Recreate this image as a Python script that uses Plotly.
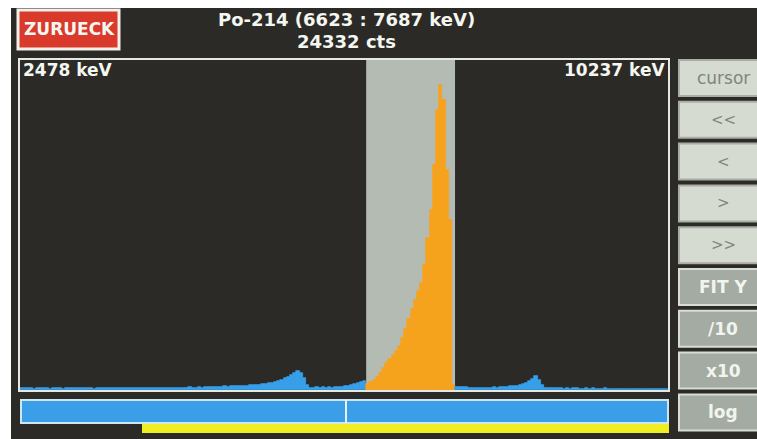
import numpy as np
import plotly.graph_objects as go

# ---------------- data ----------------
ISOTOPE = "Po-214"
RANGE_LO_KEV = 2478
RANGE_HI_KEV = 10237
WINDOW_LO_KEV = 6623
WINDOW_HI_KEV = 7687
BIN_KEV = 38

# counts per 38 keV bin, below the window (2481 .. 6623 keV)
left_counts = [
    18, 14, 20, 16, 12, 19, 22, 15, 17, 13,
    20, 16, 18, 11, 21, 17, 14, 19, 16, 22,
    15, 18, 20, 13, 17, 21, 16, 19, 14, 18,
    20, 17, 15, 19, 16, 14, 21, 17, 15, 19,
    16, 20, 18, 15, 19, 17, 21, 18, 16, 20,
    22, 19, 18, 23, 21, 19, 24, 22, 26, 24,
    27, 25, 29, 27, 31, 29, 33, 31, 35, 33,
    38, 36, 40, 44, 41, 47, 50, 53, 58, 62,
    70, 79, 90, 102, 118, 135, 152, 167, 150, 108,
    46, 22, 19, 24, 20, 23, 18, 25, 21, 26,
    28, 30, 35, 38, 45, 52, 60, 70, 78,
]
# counts per bin inside the Po-214 window (6623 .. 7687 keV)
window_counts = [
    55, 68, 88, 114, 150, 194, 238, 273, 308, 343,
    387, 458, 537, 625, 713, 792, 871, 942, 1100, 1338,
    1584, 1980, 2464, 2684, 2552, 1936, 1496, 42,
]
# counts per bin above the window (7687 .. 10233 keV)
right_counts = [
    30, 26, 28, 24, 22,
    20, 18, 22, 17, 19, 21, 16, 23, 20, 25,
    28, 30, 34, 32, 38, 42, 50,
    60, 75, 95, 125, 88, 42, 20,
    18, 15, 17, 14, 16, 13, 15, 12, 14, 16,
    13, 11, 14, 12, 15, 13, 11, 12, 14, 10,
    13, 11, 12, 9, 12, 10, 13, 11, 9, 12,
    10, 11, 9, 12, 10, 8, 11, 9,
]

BUTTONS_LIGHT = ["cursor", "&lt;&lt;", "&lt;", "&gt;", "&gt;&gt;"]
BUTTONS_DARK = ["FIT Y", "/10", "x10", "log"]

# ---------------- helpers ----------------
W, H = 757, 439


def px(x):
    return x / W


def py(y):
    return 1 - y / H


n_l, n_w, n_r = len(left_counts), len(window_counts), len(right_counts)
left_x = WINDOW_LO_KEV - BIN_KEV * (n_l - np.arange(n_l) - 0.5)
win_x = WINDOW_LO_KEV + BIN_KEV * (np.arange(n_w) + 0.5)
right_x = WINDOW_HI_KEV + BIN_KEV * (np.arange(n_r) + 0.5)

BLUE = "#38a0ea"
ORANGE = "#f7a21c"
BG = "#2b2a27"

fig = go.Figure()
for xs, ys, col in [(left_x, left_counts, BLUE), (win_x, window_counts, ORANGE),
                    (right_x, right_counts, BLUE)]:
    fig.add_trace(go.Bar(x=xs, y=ys, width=BIN_KEV,
                         marker=dict(color=col, line=dict(width=0.7, color=col)),
                         hoverinfo="x+y"))

y_top = max(window_counts) * 1.082

shapes = []
# dark screen area (photo has a white margin top/left)
shapes.append(dict(type="rect", xref="paper", yref="paper", x0=px(11), x1=1.02, y0=-0.02, y1=py(8),
                   fillcolor=BG, line=dict(width=0), layer="below"))
# window band
shapes.append(dict(type="rect", xref="x", yref="y domain", x0=WINDOW_LO_KEV, x1=WINDOW_HI_KEV,
                   y0=0, y1=1, fillcolor="#b4bbb3", line=dict(width=0), layer="below"))
# plot frame
shapes.append(dict(type="rect", xref="paper", yref="paper", x0=px(19), x1=px(669), y0=py(391), y1=py(59),
                   line=dict(color="#e4eae2", width=2), fillcolor="rgba(0,0,0,0)"))
# ZURUECK button
shapes.append(dict(type="rect", xref="paper", yref="paper", x0=px(18), x1=px(119), y0=py(49), y1=py(10),
                   fillcolor="#d93a2c", line=dict(color="#f4efe8", width=3)))
# overview bar
shapes.append(dict(type="rect", xref="paper", yref="paper", x0=px(21), x1=px(668), y0=py(423), y1=py(400),
                   fillcolor="#3a9ee8", line=dict(color="#cfe6ee", width=2)))
shapes.append(dict(type="line", xref="paper", yref="paper", x0=px(346), x1=px(346), y0=py(423), y1=py(400),
                   line=dict(color="#e8f2f4", width=2)))
shapes.append(dict(type="rect", xref="paper", yref="paper", x0=px(142), x1=px(669), y0=py(433), y1=py(424),
                   fillcolor="#f0ee22", line=dict(width=0)))

annotations = []
# side buttons
top0, pitch, bh = 60, 41.8, 36
labels = [(t, True) for t in BUTTONS_LIGHT] + [(t, False) for t in BUTTONS_DARK]
for i, (lab, light) in enumerate(labels):
    y0 = top0 + i * pitch
    y1 = y0 + bh
    shapes.append(dict(type="rect", xref="paper", yref="paper", x0=px(679), x1=px(775),
                       y0=py(y1), y1=py(y0),
                       fillcolor="#d6dbd1" if light else "#a4aba3",
                       line=dict(color="#a8ada5" if light else "#d9ddd5", width=2)))
    if light:
        font = dict(family="DejaVu Sans", size=17 if i == 0 else 15, color="#80857d")
    else:
        font = dict(family="DejaVu Sans", size=17, color="#f2f4ee", weight="bold")
    annotations.append(dict(xref="paper", yref="paper", x=px(723), y=py((y0 + y1) / 2),
                            text=lab, showarrow=False, font=font, xanchor="center", yanchor="middle"))

white_bold = dict(family="DejaVu Sans", color="#f4f6f0", weight="bold")
annotations += [
    dict(xref="paper", yref="paper", x=px(69), y=py(29), text="ZURUECK", showarrow=False,
         font=dict(white_bold, size=17), xanchor="center", yanchor="middle"),
    dict(xref="paper", yref="paper", x=px(346), y=py(20),
         text=f"{ISOTOPE} ({WINDOW_LO_KEV} : {WINDOW_HI_KEV} keV)", showarrow=False,
         font=dict(white_bold, size=18), xanchor="center", yanchor="middle"),
    dict(xref="paper", yref="paper", x=px(346), y=py(41), text=f"{sum(window_counts)} cts",
         showarrow=False, font=dict(white_bold, size=18), xanchor="center", yanchor="middle"),
    dict(xref="paper", yref="paper", x=px(21), y=py(70), text=f"{RANGE_LO_KEV} keV",
         showarrow=False, font=dict(white_bold, size=17), xanchor="left", yanchor="middle"),
    dict(xref="paper", yref="paper", x=px(667), y=py(70), text=f"{RANGE_HI_KEV} keV",
         showarrow=False, font=dict(white_bold, size=17), xanchor="right", yanchor="middle"),
]

fig.update_layout(
    width=W, height=H, autosize=False,
    margin=dict(l=0, r=0, t=0, b=0, pad=0),
    paper_bgcolor="#ffffff", plot_bgcolor=BG,
    showlegend=False, bargap=0,
    xaxis=dict(domain=[px(20), px(668)], range=[RANGE_LO_KEV, RANGE_HI_KEV],
               showgrid=False, zeroline=False, showticklabels=False, showline=False, fixedrange=True),
    yaxis=dict(domain=[py(390), py(60)], range=[0, y_top],
               showgrid=False, zeroline=False, showticklabels=False, showline=False, fixedrange=True),
    shapes=shapes, annotations=annotations,
)

fig.write_html("out.html", config={"displayModeBar": False},
               post_script="document.body.style.margin='0';")
